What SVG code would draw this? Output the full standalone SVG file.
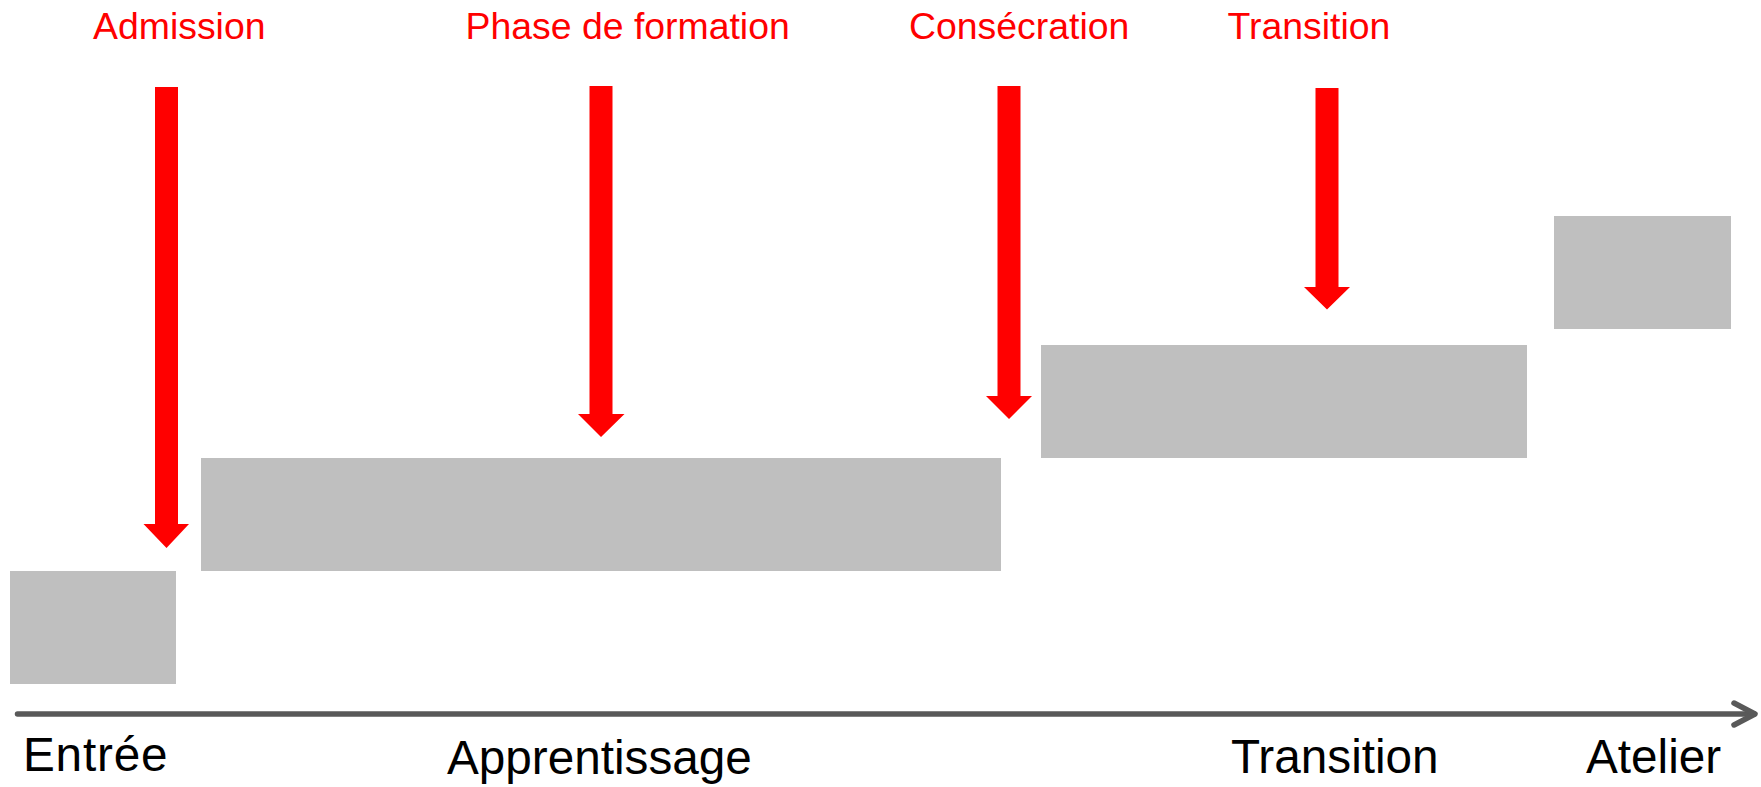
<svg xmlns="http://www.w3.org/2000/svg" width="1761" height="787" viewBox="0 0 1761 787">
<style>
.box{fill:#bfbfbf}
.arr{fill:#ff0000}
.lbl{font-family:"Liberation Sans",Arial,sans-serif;font-size:37.4px;fill:#ff0000}
.ax{font-family:"Liberation Sans",Arial,sans-serif;font-size:47.7px;fill:#000000}
.axis{stroke:#595959;stroke-width:5.5;fill:none;stroke-linecap:round;stroke-linejoin:round}
</style>
<rect width="1761" height="787" fill="#ffffff"/>
<g id="entree"><rect class="box" x="10" y="571" width="166" height="113"/></g>
<g id="apprentissage"><rect class="box" x="201" y="458" width="800" height="113"/></g>
<g id="transition"><rect class="box" x="1041" y="345" width="486" height="113"/></g>
<g id="atelier"><rect class="box" x="1554" y="216" width="177" height="113"/></g>
<g id="connectors">
<polygon class="arr" points="155,87 178,87 178,524 189,524 166.5,548 143.5,524 155,524"/>
<polygon class="arr" points="589.5,86 612.5,86 612.5,414 624.5,414 601,437 578,414 589.5,414"/>
<polygon class="arr" points="997.5,86 1020.5,86 1020.5,396 1032,396 1009,419 986,396 997.5,396"/>
<polygon class="arr" points="1315.5,88 1338.5,88 1338.5,287 1350,287 1327,309.5 1304,287 1315.5,287"/>
<path class="axis" d="M17.5,714 H1754"/>
<path class="axis" d="M1734,703 L1755,714 L1734,725"/>
</g>
<g id="labels">
<text class="lbl" x="93" y="39">Admission</text>
<text class="lbl" x="465.5" y="39">Phase de formation</text>
<text class="lbl" x="909" y="39">Consécration</text>
<text class="lbl" x="1227.5" y="39">Transition</text>
<text class="ax" x="23" y="771" letter-spacing="0.8">Entrée</text>
<text class="ax" x="447" y="774">Apprentissage</text>
<text class="ax" x="1231" y="773">Transition</text>
<text class="ax" x="1586" y="773">Atelier</text>
</g>
</svg>
